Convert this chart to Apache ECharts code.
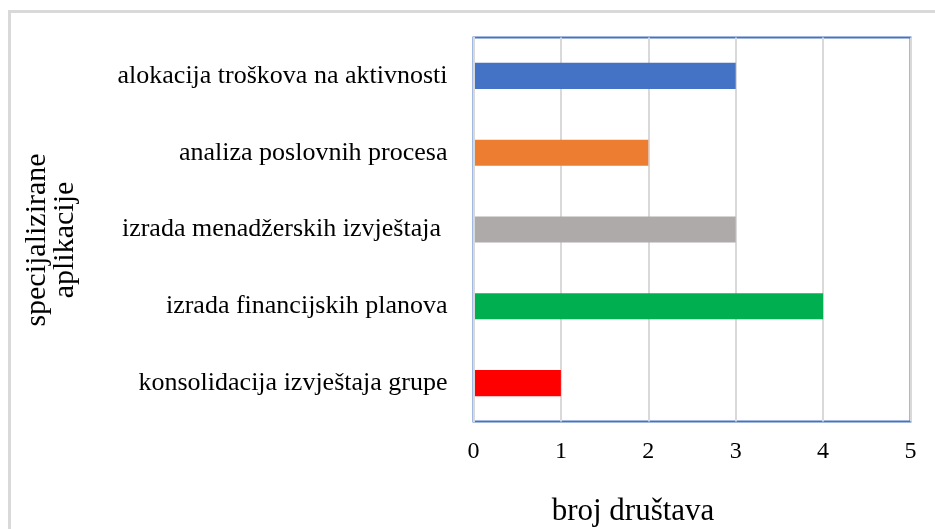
<!DOCTYPE html>
<html>
<head>
<meta charset="utf-8">
<script src="https://cdn.jsdelivr.net/npm/echarts@6/dist/echarts.min.js"></script>
<style>
  html, body { margin: 0; padding: 0; background: #fff; }
  #chart { width: 935px; height: 529px; }
</style>
</head>
<body>
<div id="chart"></div>
<script>
var categories = [
    'alokacija troškova na aktivnosti',
    'analiza poslovnih procesa',
    'izrada menadžerskih izvještaja ',
    'izrada financijskih planova',
    'konsolidacija izvještaja grupe'
];
var values = [3, 2, 3, 4, 1];
var colors = ['#4472C4', '#ED7D31', '#AEAAAA', '#00B050', '#FF0000'];
var xTicks = [0, 1, 2, 3, 4, 5];

var font = '"Liberation Serif", "Times New Roman", serif';

var barData = [];
for (var i = 0; i < values.length; i++) {
    barData.push({ value: values[i], itemStyle: { color: colors[i] } });
}

var myChart = echarts.init(document.getElementById('chart'));
var option = {
    animation: false,
    backgroundColor: '#fff',
    textStyle: { fontFamily: font },
    graphic: [
        {
            type: 'rect',
            shape: { x: 9.5, y: 11.5, width: 940, height: 540 },
            style: { fill: 'none', stroke: '#D9D9D9', lineWidth: 3 },
            z: -1
        },
        {
            type: 'text',
            x: 633,
            y: 512,
            style: {
                text: 'broj društava',
                font: '31px ' + font,
                fill: '#000',
                align: 'center',
                verticalAlign: 'middle'
            }
        },
        {
            type: 'text',
            x: 51,
            y: 240,
            rotation: Math.PI / 2,
            style: {
                text: 'specijalizirane\naplikacije',
                font: '30px ' + font,
                fill: '#000',
                align: 'center',
                verticalAlign: 'middle',
                lineHeight: 28
            }
        }
    ],
    grid: {
        left: 473.5,
        top: 37.5,
        width: 437,
        height: 384,
        show: true,
        borderColor: '#4472C4',
        borderWidth: 2,
        containLabel: false
    },
    xAxis: {
        type: 'value',
        min: 0,
        max: 5,
        interval: 1,
        axisLine: { show: false },
        axisTick: { show: false },
        splitLine: { show: true, lineStyle: { color: '#D9D9D9', width: 2 } },
        axisLabel: {
            color: '#000',
            fontSize: 24,
            fontFamily: font,
            margin: 18,
            formatter: function (v) { return xTicks.indexOf(v) >= 0 ? String(v) : ''; }
        }
    },
    yAxis: {
        type: 'category',
        inverse: true,
        data: categories,
        z: 5,
        axisLine: { show: true, lineStyle: { color: '#D9D9D9', width: 2 } },
        axisTick: { show: false },
        axisLabel: { color: '#000', fontSize: 26, fontFamily: font, margin: 26 }
    },
    series: [{
        type: 'bar',
        data: barData,
        barWidth: '34%'
    }]
};
myChart.setOption(option);
</script>
</body>
</html>
